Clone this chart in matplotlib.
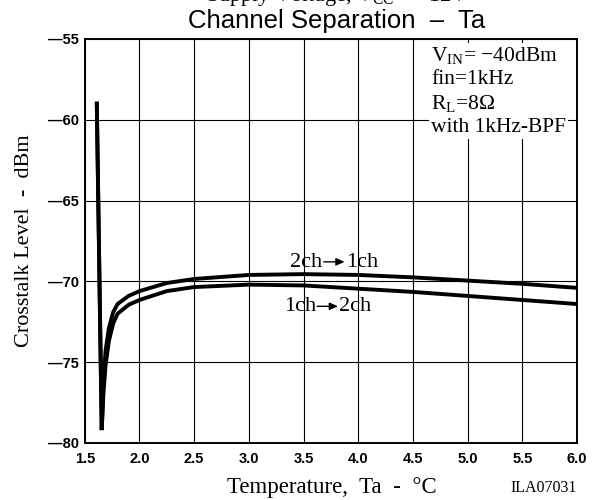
import matplotlib
matplotlib.use("Agg")
import matplotlib.pyplot as plt
from matplotlib.transforms import offset_copy

# temperature axis samples and crosstalk curves (dBm)
temp = [1.61, 1.655, 1.67, 1.69, 1.72, 1.76, 1.8, 1.9, 2.0, 2.25, 2.5,
        3.0, 3.5, 4.0, 4.5, 5.0, 5.5, 6.0]
xtalk_2to1 = [-59.0, -79.2, -76.3, -74.3, -72.9, -71.9, -71.4, -70.9, -70.6,
              -70.1, -69.85, -69.6, -69.55, -69.6, -69.75, -69.95, -70.15, -70.4]
xtalk_1to2 = [-59.0, -79.2, -77.0, -75.2, -73.7, -72.6, -72.0, -71.45, -71.15,
              -70.6, -70.35, -70.2, -70.25, -70.45, -70.65, -70.9, -71.15, -71.4]

xticks = [1.5, 2.0, 2.5, 3.0, 3.5, 4.0, 4.5, 5.0, 5.5, 6.0]
yticks = [-80, -75, -70, -65, -60, -55]

SERIF = "Liberation Serif"
SANS = "Liberation Sans"
plt.rcParams["mathtext.fontset"] = "custom"
plt.rcParams["mathtext.rm"] = SERIF

fig = plt.figure(figsize=(5.97, 5.0), dpi=100)
ax = fig.add_axes([0.142, 0.114, 0.8245, 0.808])

ax.plot(temp, xtalk_2to1, color="black", lw=2.8, solid_joinstyle="miter", zorder=3)
ax.plot(temp, xtalk_1to2, color="black", lw=2.8, solid_joinstyle="miter", zorder=3)

ax.set_xlim(1.5, 6.0)
ax.set_ylim(-80, -55)
ax.set_xticks(xticks)
ax.set_yticks(yticks)
ax.set_xticklabels([f"{v:.1f}" for v in xticks], fontfamily=SANS,
                   fontweight="bold", fontsize=10.5)
ax.set_yticklabels([f"\u2014{abs(v)}" for v in yticks], fontfamily=SANS,
                   fontweight="bold", fontsize=10.5)
ax.tick_params(length=0, pad=4)
ax.tick_params(axis="x", pad=6.5)
ax.grid(True, color="black", lw=0.8)
for s in ax.spines.values():
    s.set_linewidth(1.4)

fig.text(0.555, 0.026, "Temperature,  Ta  -  \u00b0C", fontfamily=SERIF,
         fontsize=16.5, ha="center", va="center")
fig.text(0.041, 0.518, "Crosstalk Level  -  dBm", fontfamily=SERIF,
         fontsize=16, ha="center", va="center", rotation=90)


def arrow_label(x, y, left, right):
    # "left -> right" with a short filled arrow between the two words
    ax.annotate(left, (x, y), xytext=(-8.5, 0), textcoords="offset points",
                fontfamily=SERIF, fontsize=16, ha="right", va="baseline")
    ax.annotate(right, (x, y), xytext=(8.3, 0), textcoords="offset points",
                fontfamily=SERIF, fontsize=16, ha="left", va="baseline")
    tip = offset_copy(ax.transData, fig=fig, x=7.5, y=3.6, units="points")
    ax.annotate("", xy=(x, y), xycoords=tip, xytext=(-15, 0),
                textcoords="offset points",
                arrowprops=dict(arrowstyle="-|>,head_length=0.5,head_width=0.22",
                                color="black", lw=1.0, shrinkA=0, shrinkB=0))


arrow_label(3.78, -69.1, "2ch", "1ch")
arrow_label(3.72, -71.85, "1ch", "2ch")

# test conditions
cond = ("V$_{\\rm IN}$= \u221240dBm\nfin=1kHz\nR$_{\\rm L}$=8\u03a9\nwith 1kHz-BPF")
ax.text(4.665, -55.4, cond, fontfamily=SERIF, fontsize=15.5, ha="left", va="top",
        linespacing=1.24, zorder=4,
        bbox=dict(boxstyle="square,pad=0.1", fc="white", ec="none"))

fig.text(0.563, 0.958, "Channel Separation  \u2013  Ta", fontfamily=SANS,
         fontsize=18.5, ha="center", va="center")
fig.text(0.345, 0.997, "Supply Voltage, V$_{\\rm CC}$  =  12V", fontfamily=SERIF,
         fontsize=16, ha="left", va="baseline")
fig.text(0.910, 0.024, "ILA07031", fontfamily=SERIF, fontsize=11.5,
         ha="center", va="center")

fig.savefig("out.png", dpi=100)
